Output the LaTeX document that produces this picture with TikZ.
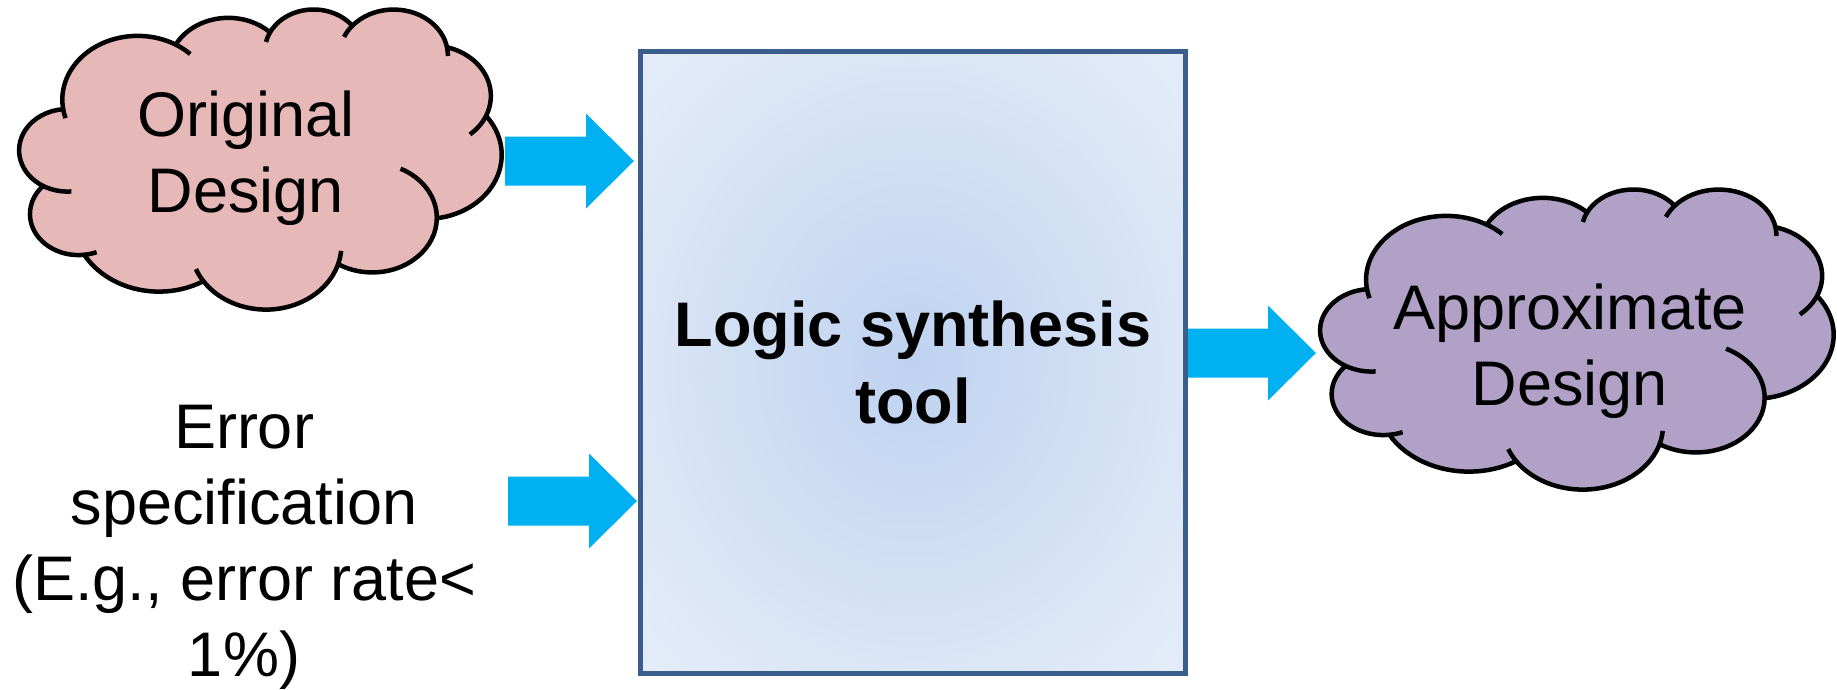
\documentclass[tikz,border=0pt]{standalone}
\usepackage{fontspec}
\setmainfont{Liberation Sans}
\usetikzlibrary{calc}

\definecolor{pinkfill}{RGB}{230,184,183}
\definecolor{lilacfill}{RGB}{178,161,199}
\definecolor{arrowblue}{RGB}{0,176,240}
\definecolor{boxedge}{RGB}{58,94,140}
\definecolor{glowin}{RGB}{190,210,240}
\definecolor{glowmid}{RGB}{219,230,246}
\definecolor{glowout}{RGB}{229,237,249}

% soft blue glow for the synthesis box
\pgfdeclareradialshading{boxglow}{\pgfpoint{0bp}{0bp}}{%
  color(0bp)=(glowin); color(25bp)=(glowmid); color(36bp)=(glowout); color(50bp)=(glowout)}

% one elliptical arc of the cloud outline, angles given as visual angles;
% converted to the parametric angles that TikZ expects and appended to \cldpath
\newcommand\cloudarc[4]{%
  \pgfmathsetmacro\cldA{atan2((#1)*sin(#3),(#2)*cos(#3))}%
  \pgfmathsetmacro\cldB{atan2((#1)*sin((#3)+(#4)),(#2)*cos((#3)+(#4)))}%
  \pgfmathsetmacro\cldD{\cldB-\cldA}%
  \pgfmathsetmacro\cldD{\cldD+360*((#4)>0)*(\cldD<0)-360*((#4)<0)*(\cldD>0)}%
  \xdef\cldpath{\cldpath arc[x radius=#1,y radius=#2,start angle=\cldA,delta angle=\cldD]}%
}
\newcommand\cloudpart[1]{\xdef\cldpath{\cldpath #1}}

% cloud: #1 name, #2 left, #3 top, #4 width, #5 height, #6 fill colour
\newcommand\puffcloud[6]{%
  \pgfmathsetmacro\cldX{#4/4320}%
  \pgfmathsetmacro\cldY{#5/4320}%
  \begin{scope}[shift={(#2,#3)},x={(\cldX pt,0pt)},y={(0pt,-\cldY pt)}]
    \gdef\cldpath{}%
    \cloudarc{675.3}{919.0}{-190.4875}{123.7805}\cloudpart{coordinate (#1-1)}%
    \cloudarc{533.3}{726.7}{-144.1024}{89.9452}\cloudpart{coordinate (#1-2)}%
    \cloudarc{436.5}{594.5}{-145.8079}{99.7230}\cloudpart{coordinate (#1-3)}%
    \cloudarc{485.7}{659.5}{-130.9861}{117.2417}\cloudpart{coordinate (#1-4)}%
    \cloudarc{533.3}{727.3}{-78.7089}{109.0269}\cloudpart{coordinate (#1-5)}%
    \cloudarc{677.5}{922.0}{-46.2673}{130.2690}\cloudpart{coordinate (#1-6)}%
    \cloudarc{578.5}{786.7}{0.6250}{114.0333}\cloudpart{coordinate (#1-7)}%
    \cloudarc{675.2}{921.5}{22.4516}{115.1726}\cloudpart{coordinate (#1-8)}%
    \cloudarc{772.0}{1054.3}{66.2426}{75.7110}\cloudpart{coordinate (#1-9)}%
    \cloudarc{436.0}{591.8}{-274.9421}{146.7356}\cloudpart{coordinate (#1-10)}%
    \cloudarc{434.5}{594.5}{-246.8285}{152.5189}%
    \draw[cloudline,fill=#6] (390,1437) coordinate (#1-0) \cldpath -- cycle;
    % inner creases of the puffs
    \gdef\cldpath{}%
    \cloudpart{(#1-10)}\cloudarc{434.5}{594.5}{113.1715}{-26.4295}%
    \cloudpart{(#1-9)}\cloudarc{436.0}{591.8}{85.0579}{-11.4475}%
    \cloudpart{(#1-8)}\cloudarc{675.2}{921.5}{137.6242}{14.0811}%
    \cloudpart{(#1-7)}\cloudarc{675.2}{921.5}{22.4516}{-15.9984}%
    \cloudpart{(#1-6)}\cloudarc{578.5}{786.7}{0.6250}{-70.9174}%
    \cloudpart{(#1-5)}\cloudarc{533.3}{727.3}{30.3180}{27.7515}%
    \cloudpart{(#1-4)}\cloudarc{485.7}{659.5}{-13.7444}{14.8589}%
    \cloudpart{(#1-3)}\cloudarc{485.7}{659.5}{-130.9861}{-18.1954}%
    \cloudpart{(#1-2)}\cloudarc{436.5}{594.5}{-145.8079}{-17.6864}%
    \cloudpart{(#1-1)}\cloudarc{675.3}{919.0}{-66.7070}{12.3194}%
    \cloudpart{(#1-0)}\cloudarc{675.3}{919.0}{-190.4875}{-11.8582}%
    \draw[cloudline,line cap=butt] \cldpath;
  \end{scope}
}

% block arrow from #1 (tail) to #2 (tip), #3 head length
\newcommand\blockarrow[3]{%
  \fill[arrowblue] let \p1=(#1), \p2=(#2) in
    (\x1,\y1+24.5pt) -- (\x2-#3pt,\y1+24.5pt) -- (\x2-#3pt,\y1+47.5pt) -- (\x2,\y1)
    -- (\x2-#3pt,\y1-47.5pt) -- (\x2-#3pt,\y1-24.5pt) -- (\x1,\y1-24.5pt) -- cycle;
}

\tikzset{
  cloudline/.style={draw=black,line width=4.5pt,line join=round},
  label text/.style={inner sep=0pt,align=center,font=\fontsize{63}{76}\selectfont},
  synthbox/.style={draw=boxedge,line width=5pt,shade,shading=boxglow,
    minimum width=545pt,minimum height=622pt,inner sep=0pt,align=center,
    font=\bfseries\fontsize{63}{77}\selectfont},
}

\begin{document}
\begin{tikzpicture}[x=1pt,y=-1pt]
  \useasboundingbox (0,0) rectangle (1837,689);

  % synthesis block
  \node[synthbox] (box) at (913,362.5) {Logic synthesis\\tool};

  % connector ends
  \coordinate (in1tail) at (505,161);
  \coordinate (in1tip) at (in1tail -| box.west);
  \coordinate (in2tail) at (508,501);
  \coordinate (in2tip) at (in2tail -| box.west);
  \coordinate (outtail) at (box.east |- 0,353);
  \coordinate (outtip) at (1316,353);

  \blockarrow{in1tail}{$(in1tip)+(-4,0)$}{48}
  \blockarrow{in2tail}{$(in2tip)+(-1,0)$}{48}
  \blockarrow{outtail}{outtip}{48}

  % design clouds
  \puffcloud{orig}{19.5}{8.5}{482}{300}{pinkfill}
  \puffcloud{approx}{1320.5}{188.5}{513}{300}{lilacfill}

  \node[label text] (origtext) at (246,158.5) {Original\\Design};
  \node[label text] (approxtext) at (1570,351) {Approximate\\Design};
  \node[label text] (errspec) at (244,547) {Error\\specification\\(E.g., error rate<\\1\%)};
\end{tikzpicture}
\end{document}
